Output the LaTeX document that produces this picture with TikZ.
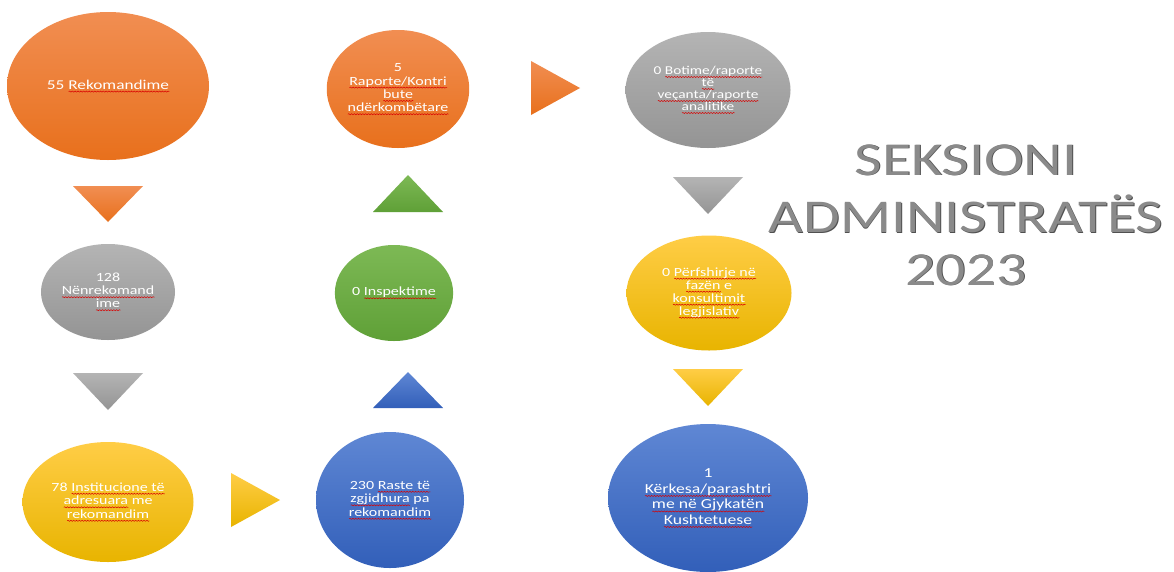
\documentclass[tikz,border=0pt]{standalone}
\usepackage{fontspec}
\setmainfont{Carlito}
\usepackage{graphicx}
\usetikzlibrary{shapes.geometric,decorations.pathmorphing}
\newsavebox\rwbox
\newlength\rwlen
\newcommand\rw[1]{\sbox\rwbox{#1}\setlength\rwlen{\wd\rwbox}\leavevmode
  \makebox[0pt][l]{\raisebox{-2.6pt}[0pt][0pt]{\tikz[baseline=0pt]\draw[red!85!black,line width=0.45pt,decorate,decoration={snake,amplitude=0.55pt,segment length=2.2pt}] (0pt,0pt) -- (\rwlen,0pt);}}\usebox\rwbox}
\newcommand\et[3]{\scalebox{1.28}[1]{\fontsize{#1}{#2}\selectfont\begin{tabular}{@{}c@{}}#3\end{tabular}}}
\definecolor{orT}{RGB}{241,142,82}
\definecolor{orB}{RGB}{232,112,28}
\definecolor{grT}{RGB}{180,180,180}
\definecolor{grB}{RGB}{148,148,148}
\definecolor{yeT}{RGB}{255,205,70}
\definecolor{yeB}{RGB}{232,180,0}
\definecolor{gnT}{RGB}{125,185,85}
\definecolor{gnB}{RGB}{95,160,55}
\definecolor{blT}{RGB}{95,135,212}
\definecolor{blB}{RGB}{50,95,185}
\definecolor{titleC}{RGB}{138,138,138}
\definecolor{titleS}{RGB}{80,80,80}
\tikzset{
  bub/.style={ellipse, inner sep=0pt, text=white},
  orf/.style={top color=orT, bottom color=orB},
  grf/.style={top color=grT, bottom color=grB},
  yef/.style={top color=yeT, bottom color=yeB},
  gnf/.style={top color=gnT, bottom color=gnB},
  blf/.style={top color=blT, bottom color=blB},
  ttl/.style={font=\fontsize{47}{50}\selectfont, inner sep=0pt},
}
\begin{document}
\begin{tikzpicture}[x=1pt,y=-1pt]
\useasboundingbox[fill=white] (0,0) rectangle (1174,571);

% column 1
\node[bub,orf,minimum width=202pt,minimum height=148pt] (e1) at (108,86)
  {\et{13.5}{15}{55 \rw{Rekomandime}}};
\path[orf] (73,186) -- (143,186) -- (108,222) -- cycle;
\node[bub,grf,minimum width=134pt,minimum height=96pt] (e2) at (108,292)
  {\et{12.5}{13}{128\\\rw{Nënrekomand}\\\rw{ime}}};
\path[grf] (73,373) -- (143,373) -- (108,410) -- cycle;
\node[bub,yef,minimum width=171pt,minimum height=120pt] (e3) at (108,502)
  {\et{12.5}{13.5}{78 \rw{Institucione të}\\\rw{adresuara} me\\\rw{rekomandim}}};
\path[yef] (231,473) -- (231,527) -- (280,500) -- cycle;

% column 2
\node[bub,blf,minimum width=148pt,minimum height=136pt] (e4) at (390,500)
  {\et{12.5}{13.5}{230 \rw{Raste të}\\\rw{zgjidhura} pa\\\rw{rekomandim}}};
\path[blf] (373,408) -- (443,408) -- (408,372) -- cycle;
\node[bub,gnf,minimum width=105pt,minimum height=96pt] (e5) at (394,293)
  {\et{12.5}{13.5}{0 \rw{Inspektime}}};
\path[gnf] (373,212) -- (443,212) -- (408,175) -- cycle;
\node[bub,orf,minimum width=127pt,minimum height=118pt] (e6) at (398,89)
  {\et{12.5}{13.3}{5\\\rw{Raporte/Kontri}\\\rw{bute}\\\rw{ndërkombëtare}}};
\path[orf] (531,61) -- (531,115) -- (580,88) -- cycle;

% column 3
\node[bub,grf,minimum width=165pt,minimum height=116pt] (e7) at (708,90)
  {\et{12}{12}{0 \rw{Botime/raporte}\\\rw{të}\\\rw{veçanta/raporte}\\\rw{analitike}}};
\path[grf] (673,177) -- (743,177) -- (708,214) -- cycle;
\node[bub,yef,minimum width=165pt,minimum height=115pt] (e8) at (709,293)
  {\et{12.5}{13}{0 \rw{Përfshirje në}\\\rw{fazën} e\\\rw{konsultimit}\\\rw{legjislativ}}};
\path[yef] (673,369) -- (743,369) -- (708,406) -- cycle;
\node[bub,blf,minimum width=200pt,minimum height=148pt] (e9) at (708,498)
  {\et{13.8}{15.5}{1\\\rw{Kërkesa/parashtri}\\\rw{me në Gjykatën}\\\rw{Kushtetuese}}};

% title
\foreach \t/\yy [count=\i] in {SEKSIONI/160, ADMINISTRATËS/214, 2023/270}{
  \node[ttl,text=titleS] at (966.9,\yy+0.9) {\scalebox{1.27}[1]{\t}};
  \node[ttl,text=titleC] (t\i) at (966,\yy) {\scalebox{1.27}[1]{\t}};
}
\end{tikzpicture}
\end{document}
